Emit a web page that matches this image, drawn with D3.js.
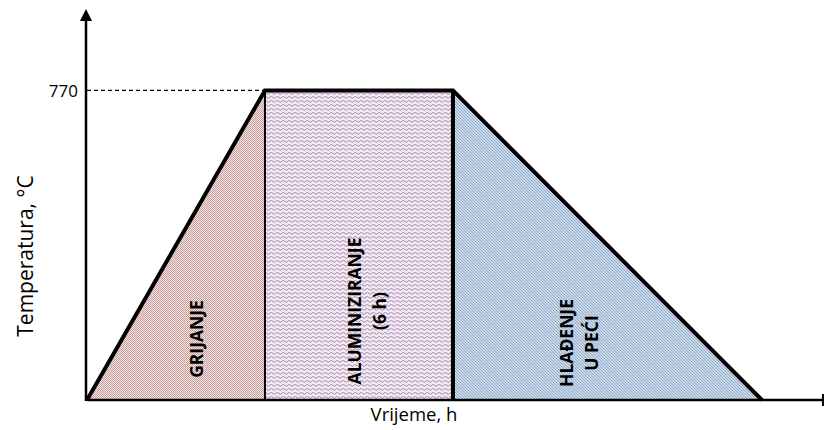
<!DOCTYPE html>
<html>
<head>
<meta charset="utf-8">
<script src="https://cdnjs.cloudflare.com/ajax/libs/d3/7.8.5/d3.min.js"></script>
<style>
  body { margin: 0; background: #fff; }
  text { font-family: "Open Sans", "Liberation Sans", sans-serif; }
</style>
</head>
<body>
<svg id="chart" width="825" height="430"></svg>
<script>
// breakpoints of the process (time in h, temperature in °C)
const timeH = [0, 5.68, 11.68, 21.54]
const tempC = [0, 770, 770, 0]
const phases = ["GRIJANJE", "ALUMINIZIRANJE", "HLAĐENJE"]
const phaseSub = ["", "(6 h)", "U PEĆI"]
const yTicks = [770]

const margin = { top: 10, right: 2, bottom: 30, left: 87 }
const width = 825
const height = 430

let svg = d3.select("#chart")

let x = d3.scaleLinear()
  .domain([0, 23.49])
  .range([margin.left, width - margin.right])

let y = d3.scaleLinear()
  .domain([0, 970])
  .range([400, margin.top])

// ********** patterns **********
let defs = svg.append("defs")

let p1 = defs.append("pattern").attr("id", "pHeat")
  .attr("patternUnits", "userSpaceOnUse").attr("width", 2).attr("height", 2)
p1.append("rect").attr("width", 2).attr("height", 2).attr("fill", "#f1e2e1")
p1.append("rect").attr("width", 1).attr("height", 1).attr("fill", "#c9a09e")
p1.append("rect").attr("x", 1).attr("y", 1).attr("width", 1).attr("height", 1).attr("fill", "#c9a09e")

let p2 = defs.append("pattern").attr("id", "pAlu")
  .attr("patternUnits", "userSpaceOnUse").attr("width", 6).attr("height", 4)
p2.append("rect").attr("width", 6).attr("height", 4).attr("fill", "#f3e9f3")
p2.append("path").attr("d", "M0,1 Q1.5,-0.5 3,1.5 T6,1")
  .attr("fill", "none").attr("stroke", "#a283ab").attr("stroke-width", 1)

let p3 = defs.append("pattern").attr("id", "pCool")
  .attr("patternUnits", "userSpaceOnUse").attr("width", 3).attr("height", 3)
p3.append("rect").attr("width", 3).attr("height", 3).attr("fill", "#e2eaf4")
p3.append("path").attr("d", "M0,0 L3,3 M-1,2 L1,4 M2,-1 L4,1")
  .attr("fill", "none").attr("stroke", "#8ea9c9").attr("stroke-width", 1.1)

let fills = ["url(#pHeat)", "url(#pAlu)", "url(#pCool)"]

// ********** phase areas **********
let segs = d3.range(phases.length).map(function(i) {
  return [[timeH[i], tempC[i]], [timeH[i + 1], tempC[i + 1]]]
})

let area = d3.area()
  .x(function(d) { return x(d[0]) })
  .y0(y(0))
  .y1(function(d) { return y(d[1]) })

svg.selectAll(".phase")
  .data(segs)
  .enter()
  .append("path")
  .attr("class", "phase")
  .attr("d", area)
  .attr("fill", function(d, i) { return fills[i] })

// dashed guide to the 770 level
svg.append("line")
  .attr("x1", x(0)).attr("x2", x(timeH[1]))
  .attr("y1", y(770)).attr("y2", y(770))
  .attr("stroke", "#000").attr("stroke-width", 1.2)
  .attr("stroke-dasharray", "4,3")

// phase separators
svg.selectAll(".sep")
  .data([timeH[1], timeH[2]])
  .enter()
  .append("line")
  .attr("class", "sep")
  .attr("x1", function(d) { return x(d) }).attr("x2", function(d) { return x(d) })
  .attr("y1", y(770)).attr("y2", y(0))
  .attr("stroke", "#000")
  .attr("stroke-width", function(d, i) { return i == 0 ? 2 : 4 })

// outline of the process
let line = d3.line()
  .x(function(d, i) { return x(timeH[i]) })
  .y(function(d) { return y(d) })

svg.append("path")
  .attr("d", line(tempC))
  .attr("fill", "none")
  .attr("stroke", "#000")
  .attr("stroke-width", 4)
  .attr("stroke-linejoin", "miter")

// ********** axes **********
svg.append("line")
  .attr("x1", x(0)).attr("x2", width - 3)
  .attr("y1", y(0)).attr("y2", y(0))
  .attr("stroke", "#000").attr("stroke-width", 2.5)
svg.append("line")
  .attr("x1", width - 2).attr("x2", width - 2)
  .attr("y1", y(0) - 6).attr("y2", y(0) + 6)
  .attr("stroke", "#000").attr("stroke-width", 2)

svg.append("line")
  .attr("x1", x(0) - 1).attr("x2", x(0) - 1)
  .attr("y1", y(0) + 1).attr("y2", 20)
  .attr("stroke", "#000").attr("stroke-width", 2.5)
svg.append("path")
  .attr("d", "M" + (x(0) - 7) + ",21 L" + (x(0) - 1) + ",9 L" + (x(0) + 5) + ",21 Z")
  .attr("fill", "#000")

svg.selectAll(".ytick")
  .data(yTicks)
  .enter()
  .append("text")
  .attr("class", "ytick")
  .attr("x", x(0) - 9)
  .attr("y", function(d) { return y(d) })
  .attr("dy", "0.36em")
  .attr("text-anchor", "end")
  .attr("font-size", 17)
  .text(function(d) { return d })

svg.append("text")
  .attr("x", 414).attr("y", 421)
  .attr("text-anchor", "middle")
  .attr("font-size", 18.5)
  .text("Vrijeme, h")

svg.append("text")
  .attr("transform", "translate(33, 256) rotate(-90)")
  .attr("text-anchor", "middle")
  .attr("font-size", 21)
  .text("Temperatura, °C")

// ********** phase labels **********
let labelX = [197, 355, 567]
let labelY = [339, 311, 343]

let lab = svg.selectAll(".lab")
  .data(phases)
  .enter()
  .append("text")
  .attr("class", "lab")
  .attr("transform", function(d, i) {
    return "translate(" + labelX[i] + "," + labelY[i] + ") rotate(-90)"
  })
  .attr("text-anchor", "middle")
  .attr("font-size", 17.5)
  .attr("font-weight", "bold")

lab.append("tspan")
  .attr("x", 0).attr("dy", "0.35em")
  .text(function(d) { return d })
lab.append("tspan")
  .attr("x", 0).attr("dy", "1.4em")
  .text(function(d, i) { return phaseSub[i] })
</script>
</body>
</html>
